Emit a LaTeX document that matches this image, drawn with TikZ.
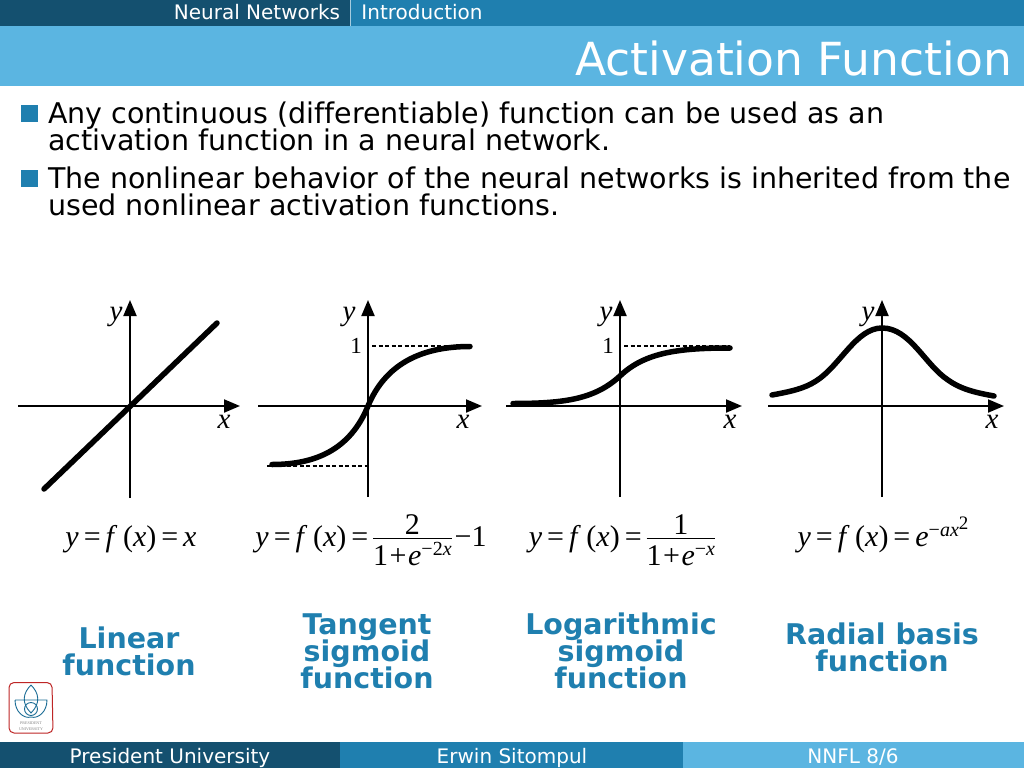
\documentclass[tikz,border=0pt]{standalone}
\usepackage{fontspec}
\usetikzlibrary{arrows.meta}
\setmainfont[Ligatures=NoCommon]{DejaVu Sans}
\newfontfamily\tnr{Liberation Serif}
\definecolor{darkbar}{HTML}{14506F}
\definecolor{midbar}{HTML}{1F7FAF}
\definecolor{lightbar}{HTML}{5BB5E1}
\newcommand{\fs}[2]{\fontsize{#1}{#2}\selectfont\lineskiplimit=-20pt\relax}
\newcommand{\vi}[1]{{\tnr\itshape #1}}
\newcommand{\eqs}{\hspace{5pt}{\tnr =}\hspace{5pt}}
\newcommand{\sps}[1]{\raisebox{10pt}{\fs{20}{20}\tnr #1}}
\newcommand{\fxlead}{\vi{y}\eqs\vi{f}\hspace{9pt}{\tnr(}\vi{x}{\tnr)}\eqs}
\newcommand{\plusg}{\hspace{1.5pt}+\hspace{1.5pt}}
\newsavebox{\denbox}
\newcommand{\fracbox}[2]{\raisebox{7.5pt}{\sbox{\denbox}{#2}\rlap{\hbox to \wd\denbox{\hss\raisebox{5pt}{#1}\hss}}\rlap{\rule{\wd\denbox}{0.8pt}}\raisebox{-26pt}{\usebox{\denbox}}}}
\tikzset{
 x=1pt,y=-1pt,
 bartext/.style={text=white,font=\fs{20}{20},anchor=base,inner sep=0},
 bullet/.style={fill=midbar,minimum size=17pt,inner sep=0,draw=none},
 bodytext/.style={font=\fs{28.5}{27},align=left,anchor=north west,inner sep=0,text=black},
 axisline/.style={line width=2pt,-{Triangle[length=16pt,width=13pt]}},
 curveline/.style={line width=5.5pt,line cap=round,line join=round},
 levelline/.style={line width=1.4pt,dash pattern=on 4pt off 2.5pt},
 axlabel/.style={font=\fs{29}{29}\tnr\itshape,inner sep=0},
 onelabel/.style={font=\fs{23}{23}\tnr,inner sep=0},
 formula/.style={font=\fs{30}{30}\tnr,inner sep=0,anchor=base},
 fname/.style={font=\fs{28.5}{27}\bfseries,text=midbar,align=center,inner sep=0},
}
\begin{document}
\begin{tikzpicture}
\useasboundingbox (0,0) rectangle (1024,768);
% bars
\fill[white] (0,0) rectangle (1024,768);
\fill[darkbar] (0,0) rectangle (350,26);
\fill[midbar] (350,0) rectangle (1024,26);
\fill[lightbar] (0,26) rectangle (1024,86);
\fill[darkbar] (0,742) rectangle (340,768);
\fill[midbar] (340,742) rectangle (683,768);
\fill[lightbar] (683,742) rectangle (1024,768);
\draw[white!60!midbar,line width=.6pt] (350.5,0) -- (350.5,26);
\node[bartext] (nn) at (257,20) {Neural Networks};
\node[bartext] (intro) at (422,20) {Introduction};
\node[text=white,font=\fs{45.6}{46},anchor=base east,inner sep=0] (title) at (1012,75) {Activation Function};
% bullets
\node[bullet] (b1) at (29,113) {};
\node[bullet] (b2) at (29,178) {};
\node[bodytext] (t1) at (48,102) {Any continuous (differentiable) function can be used as an\\activation function in a neural network.};
\node[bodytext] (t2) at (48,167) {The nonlinear behavior of the neural networks is inherited from the\\used nonlinear activation functions.};
% plot 1
\coordinate (a1l) at (18,406); \coordinate (a1r) at (240,406);
\coordinate (a1b) at (130,498); \coordinate (a1t) at (130,300);
\draw[axisline] (a1l) -- (a1r);
\draw[axisline] (a1b) -- (a1t);
\coordinate (c1a) at (44,489); \coordinate (c1b) at (217,323);
\draw[curveline] (c1a) -- (c1b);
\node[axlabel] (y1) at (116,317) {y};
\node[axlabel] (x1) at (224,422) {x};
% plot 2
\coordinate (a2l) at (258,406); \coordinate (a2r) at (482,406);
\coordinate (a2b) at (368,497); \coordinate (a2t) at (368,300);
\draw[axisline] (a2l) -- (a2r);
\draw[axisline] (a2b) -- (a2t);
\coordinate (d2a) at (372,346); \coordinate (d2b) at (470,346);
\coordinate (d2c) at (267,466); \coordinate (d2d) at (368,466);
\draw[levelline] (d2a) -- (d2b);
\draw[levelline] (d2c) -- (d2d);
\draw[curveline] (272,464.5) .. controls (315,464.5) and (350,450) .. (368,406) .. controls (385,365) and (420,346.5) .. (470,346.5);
\node[axlabel] (y2) at (349,317) {y};
\node[axlabel] (x2) at (463,422) {x};
\node[onelabel] (one2) at (356,346) {1};
% plot 3
\coordinate (a3l) at (506,406); \coordinate (a3r) at (742,406);
\coordinate (a3b) at (620,497); \coordinate (a3t) at (620,300);
\draw[axisline] (a3l) -- (a3r);
\draw[axisline] (a3b) -- (a3t);
\coordinate (d3a) at (624,346); \coordinate (d3b) at (730,346);
\draw[levelline] (d3a) -- (d3b);
\draw[curveline] (513,403.5) .. controls (565,403.5) and (595,399) .. (620,376) .. controls (645,352) and (680,348) .. (730,348);
\node[axlabel] (y3) at (606,317) {y};
\node[axlabel] (x3) at (730,422) {x};
\node[onelabel] (one3) at (608,346) {1};
% plot 4
\coordinate (a4l) at (768,406); \coordinate (a4r) at (1004,406);
\coordinate (a4b) at (882,497); \coordinate (a4t) at (882,300);
\draw[axisline] (a4l) -- (a4r);
\draw[axisline] (a4b) -- (a4t);
\draw[curveline] (772,395) .. controls (788,392) and (804,389) .. (816,381) .. controls (840,366) and (856,328) .. (882,328) .. controls (910,328) and (925,365) .. (948,380) .. controls (962,390) and (978,393) .. (994,396);
\node[axlabel] (y4) at (868,317) {y};
\node[axlabel] (x4) at (992,422) {x};
% formulas
\node[formula] (f1) at (131,546.5) {\fxlead\vi{x}};
\node[formula] (f2) at (371,546.5) {\fxlead\fracbox{2}{1\plusg\vi{e}\sps{−2\vi{x}}}\hspace{3pt}−1};
\node[formula] (f3) at (622,546.5) {\fxlead\fracbox{1}{1\plusg\vi{e}\sps{−\vi{x}}}};
\node[formula] (f4) at (883,546) {\fxlead\vi{e}\sps{−\vi{ax}\raisebox{7pt}{\fs{19}{19}\upshape 2}}};
% names
\node[fname] (n1) at (129,651) {Linear\\function};
\node[fname] (n2) at (367,651) {Tangent\\sigmoid\\function};
\node[fname] (n3) at (621,651) {Logarithmic\\sigmoid\\function};
\node[fname] (n4) at (882,647) {Radial basis\\function};
% logo
\draw[red!70!black!85,line width=1pt,rounded corners=5pt,fill=white] (9,682.5) -- (52,682.5) -- (53,733) -- (9,733) -- cycle;
\begin{scope}[midbar!85!black,line width=.9pt]
\draw (31,685) .. controls (23,693) and (21,703) .. (31,713) .. controls (41,703) and (39,693) .. (31,685);
\draw (15,700) .. controls (15,712) and (24,719) .. (31,717) .. controls (38,719) and (47,712) .. (47,700) -- (15,700);
\draw (31,709) circle (6.5);
\end{scope}
\node[font=\fs{4}{6}\tnr,text=gray,align=center,inner sep=0] (logotext) at (31,726) {PRESIDENT\\UNIVERSITY};
% footer
\node[bartext] (ft1) at (170,763) {President University};
\node[bartext] (ft2) at (512,763) {Erwin Sitompul};
\node[bartext] (ft3) at (853,763) {NNFL 8/6};
\end{tikzpicture}
\end{document}
